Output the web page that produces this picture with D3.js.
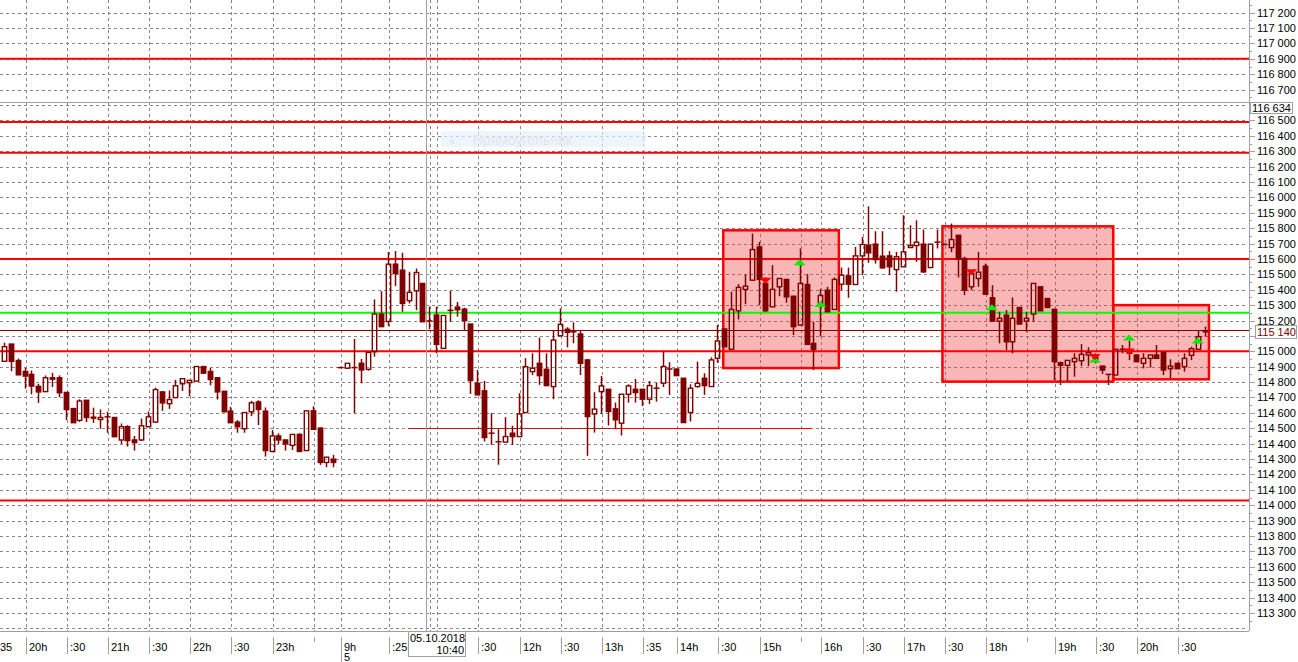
<!DOCTYPE html>
<html><head><meta charset="utf-8">
<script src="https://cdn.jsdelivr.net/npm/d3@7"></script>
<style>html,body{margin:0;padding:0;background:#fff;overflow:hidden}svg{display:block}text{font-family:"Liberation Sans",Arial,sans-serif;font-size:11px}</style>
</head><body><svg id="c" width="1298" height="662"></svg>
<script>
// ---- DATA (5-minute candles) ----
const opens = [114935,115047,114940,114869,114850,114772,114738,114828,114828,114733,114628,114551,114682,114572,114557,114574,114570,114424,114510,114424,114424,114510,114540,114736,114660,114699,114789,114796,114806,114901,114869,114828,114740,114611,114540,114497,114607,114671,114611,114349,114450,114424,114389,114460,114355,114613,114501,114278,114299,
114894,114890,114894,114922,114883,114998,115242,115194,115566,115527,115329,115393,115441,115197,115236,115019,115266,115287,115274,115177,114792,114743,114468,114412,114410,114468,114446,114602,114868,114922,114883,114771,115101,115143,115127,115112,114944,114593,114738,114753,114626,114533,114721,114753,114753,114689,114760,114793,114885,114885,114825,114602,114771,114825,114771,114955,115145,115013,115263,115402,115462,115678,115441,115289,115419,115467,115358,115170,115434,115051,115311,115397,115272,115436,115490,115434,115620,115689,115696,115618,115620,115531,115549,115674,115687,115696,115544,115709,115694,115674,115754,115603,115419,115473,115553,115348,115196,115235,115062,115285,115196,115242,115419,115343,115272,114926,114909,114933,114939,114976,114965,114904,114850,114846,115013,114987,114976,114922,114954,114976,114993,114887,114922,114900,114974,115013,115127];
const highs = [115056,115047,114953,114892,114875,114789,114843,114860,114843,114733,114628,114688,114682,114634,114622,114607,114570,114531,114520,114450,114563,114609,114764,114742,114746,114815,114822,114811,114901,114901,114892,114828,114740,114639,114553,114602,114678,114682,114635,114488,114467,114424,114460,114467,114613,114643,114505,114312,114327,
114900,114922,115080,114950,114993,115337,115391,115646,115651,115640,115517,115538,115441,115290,115290,115233,115393,115320,115283,115177,114879,114807,114598,114494,114572,114516,114727,114955,114987,115089,114987,115138,115279,115156,115188,115138,114950,114734,114840,114753,114667,114721,114786,114820,114753,114807,114797,114998,114929,114885,114825,114786,114933,114857,114961,115171,115145,115387,115436,115499,115765,115711,115480,115560,115473,115467,115358,115668,115501,115192,115406,115419,115480,115544,115544,115678,115743,115942,115780,115780,115650,115646,115884,115819,115851,115791,115696,115791,115700,115830,115754,115614,115527,115646,115570,115430,115257,115268,115350,115285,115257,115441,115419,115343,115278,114933,114941,114987,115047,115026,114987,114904,114850,115013,115041,115069,114976,114987,114976,115041,114993,114948,114922,114987,115030,115138,115160];
const lows = [114935,114871,114847,114757,114720,114665,114738,114768,114703,114553,114536,114542,114540,114535,114497,114471,114445,114398,114381,114355,114417,114510,114536,114613,114626,114699,114742,114708,114806,114854,114779,114686,114607,114536,114471,114471,114579,114521,114316,114349,114398,114355,114359,114349,114355,114493,114262,114247,114247,
114890,114890,114598,114792,114874,114965,115160,115164,115424,115257,115311,115268,115192,115143,114987,115019,115192,115225,115134,114723,114717,114414,114392,114263,114410,114392,114446,114602,114846,114782,114777,114689,115101,115026,115052,114846,114321,114472,114593,114518,114496,114453,114667,114667,114645,114658,114673,114767,114717,114842,114537,114544,114764,114717,114771,114926,115030,115013,115207,115307,115462,115300,115257,115289,115358,115315,115106,115170,115045,114878,115097,115257,115272,115397,115348,115434,115495,115575,115570,115538,115495,115387,115549,115674,115581,115510,115544,115668,115690,115644,115480,115365,115397,115419,115371,115196,115052,115008,114987,115177,115127,115192,115263,115285,114814,114781,114803,114835,114904,114904,114922,114853,114781,114846,114987,114943,114933,114889,114894,114954,114846,114824,114887,114868,114943,115013,115095];
const closes = [115030,114935,114847,114839,114774,114736,114828,114819,114731,114622,114536,114677,114570,114570,114570,114574,114445,114510,114420,114407,114516,114574,114751,114665,114686,114776,114822,114811,114901,114858,114817,114736,114607,114536,114510,114602,114665,114622,114355,114450,114424,114398,114460,114349,114613,114493,114278,114312,114278,
114894,114922,114894,114879,114993,115242,115160,115566,115506,115311,115383,115512,115192,115197,115045,115233,115266,115270,115199,114810,114717,114440,114468,114412,114446,114446,114593,114900,114890,114842,114777,115073,115175,115123,115127,114922,114576,114624,114775,114609,114555,114721,114775,114732,114689,114777,114760,114901,114885,114842,114537,114760,114792,114777,114944,115067,115030,115272,115415,115423,115661,115467,115263,115402,115473,115354,115160,115441,115045,115013,115363,115257,115467,115495,115436,115620,115694,115640,115596,115542,115549,115614,115646,115687,115709,115516,115696,115709,115694,115726,115598,115397,115505,115514,115371,115196,115214,115062,115214,115177,115214,115441,115263,115285,114933,114909,114941,114954,114980,114991,114948,114878,114850,115013,115013,115008,114933,114954,114976,114954,114879,114904,114887,114954,115017,115095,115127];

// x-axis tick labels: candle index and text (first one is cut by the left edge)
const tickIdx  = [-2, 3, 9, 15, 21, 27, 33, 39, 45, 49, 56, 62, 63, 69, 75, 81, 87, 93, 98, 104, 110, 116, 119, 125, 131, 137, 143, 149, 153, 159, 165, 171];
const tickText = ["35","20h",":30","21h",":30","22h",":30","23h","","9h",":25","","",":30","12h",":30","13h",":35","14h",":30","15h","","16h",":30","17h",":30","18h","","19h",":30","20h",":30"];

// horizontal levels
const redLevels = [116900, 116490, 116290, 115600, 115000, 114030];
const greenLevels = [115250];
const lastPrice = 115140;
const crossPrice = 116618, crossPriceText = "116 634";
const crossIdx = 61.47, crossDate = "05.10.2018", crossTime = "10:40";
// trend segments at 114500: [startIdx, endIdx, price]
const segStart = [58.9, 88.6], segEnd = [88.6, 117.8], segPrice = [114500, 114500];
// rectangles
const rectI0 = [104.85, 136.8, 161.7], rectI1 = [121.7, 161.7, 175.65];
const rectTop = [115786, 115812, 115300], rectBot = [114891, 114803, 114818];
// signal arrows
const arrowIdx = [111, 116, 119, 141, 144, 159, 159, 164, 164, 174];
const arrowPrice = [115459, 115579, 115307, 115514, 115287, 114947, 114963, 115090, 114999, 115070];
const arrowDir = ["down","up","up","down","up","up","down","up","down","up"];

// ---- CHART ----
const svg = d3.select("#c");
const plotR = 1249, plotB = 631;
const x = d3.scaleLinear().domain([0, 175]).range([4, 4 + 175 * 6.86]);
const y = d3.scaleLinear().domain([115000, 117200]).range([351.3, 12.7]);
const candleColor = "#800000";
const fmt = v => d3.format(",")(v).replace(/,/g, " ");

const gGrid = svg.append("g");
const hTicks = d3.range(113200, 117300, 100);
gGrid.selectAll("line.h").data(hTicks).join("line")
  .attr("x1", 0).attr("x2", plotR - 4)
  .attr("y1", d => Math.round(y(d)) + 0.5).attr("y2", d => Math.round(y(d)) + 0.5)
  .attr("stroke", "#888").attr("stroke-dasharray", "3,3");
gGrid.selectAll("line.v").data(tickIdx).join("line")
  .attr("x1", d => Math.round(x(d) + 1) + 0.5).attr("x2", d => Math.round(x(d) + 1) + 0.5)
  .attr("y1", 0).attr("y2", plotB)
  .attr("stroke", "#888").attr("stroke-dasharray", "3,3");

// watermark
svg.append("rect").attr("x", 441).attr("y", 131).attr("width", 205).attr("height", 16).attr("rx", 3)
  .attr("fill", "#e8f1fd").attr("opacity", 0.7);
svg.append("circle").attr("cx", 452).attr("cy", 141.5).attr("r", 2.5).attr("fill", "#e6e9ee");
svg.append("text").attr("x", 473).attr("y", 145).text("Прямоугольник")
  .style("font-size", "14px").attr("fill", "#e3e6ea");

// rectangles
svg.append("g").selectAll("rect").data(rectI0).join("rect")
  .attr("x", (d, i) => x(d)).attr("width", (d, i) => x(rectI1[i]) - x(d))
  .attr("y", (d, i) => y(rectTop[i])).attr("height", (d, i) => y(rectBot[i]) - y(rectTop[i]))
  .attr("fill", "rgba(235,40,40,0.34)").attr("stroke", "#ff0000").attr("stroke-width", 2.5);

// levels
const gLv = svg.append("g");
gLv.selectAll("line.r").data(redLevels).join("line")
  .attr("x1", 0).attr("x2", plotR).attr("y1", d => y(d)).attr("y2", d => y(d))
  .attr("stroke", "#ff0000").attr("stroke-width", 2);
gLv.selectAll("line.g").data(greenLevels).join("line")
  .attr("x1", 0).attr("x2", plotR).attr("y1", d => y(d)).attr("y2", d => y(d))
  .attr("stroke", "#00ff00").attr("stroke-width", 2);
gLv.selectAll("line.s").data(segStart).join("line")
  .attr("x1", d => x(d)).attr("x2", (d, i) => x(segEnd[i]))
  .attr("y1", (d, i) => Math.round(y(segPrice[i])) + 0.5).attr("y2", (d, i) => Math.round(y(segPrice[i])) + 0.5)
  .attr("stroke", (d, i) => i === 0 ? "#b01818" : "#ff0000").attr("stroke-width", 1);
// last price line
gLv.append("line").attr("x1", 0).attr("x2", plotR)
  .attr("y1", Math.round(y(lastPrice)) + 0.5).attr("y2", Math.round(y(lastPrice)) + 0.5)
  .attr("stroke", candleColor).attr("stroke-width", 1);
// crosshair
gLv.append("line").attr("x1", 0).attr("x2", plotR)
  .attr("y1", Math.round(y(crossPrice)) + 0.5).attr("y2", Math.round(y(crossPrice)) + 0.5)
  .attr("stroke", "#a0a0a0");
gLv.append("line").attr("x1", Math.round(x(crossIdx)) + 0.5).attr("x2", Math.round(x(crossIdx)) + 0.5)
  .attr("y1", 0).attr("y2", plotB).attr("stroke", "#a0a0a0");

// candles
const idx = d3.range(opens.length);
const gC = svg.append("g");
const bw = 4.4;
idx.forEach(i => {
  const o = opens[i], h = highs[i], l = lows[i], c = closes[i];
  const cx = Math.round(x(i)) + 0.5;
  const top = y(Math.max(o, c)), bot = y(Math.min(o, c));
  const bull = c > o;
  if (bull) {
    gC.append("line").attr("x1", cx).attr("x2", cx).attr("y1", y(h)).attr("y2", top)
      .attr("stroke", candleColor).attr("stroke-width", 1.5);
    gC.append("line").attr("x1", cx).attr("x2", cx).attr("y1", bot).attr("y2", y(l))
      .attr("stroke", candleColor).attr("stroke-width", 1.5);
    gC.append("rect").attr("x", cx - bw / 2).attr("width", bw).attr("y", top).attr("height", Math.max(bot - top, 1))
      .attr("fill", "none").attr("stroke", candleColor).attr("stroke-width", 1.4);
  } else {
    gC.append("line").attr("x1", cx).attr("x2", cx).attr("y1", y(h)).attr("y2", y(l))
      .attr("stroke", candleColor).attr("stroke-width", 1.5);
    if (o === c) {
      gC.append("line").attr("x1", cx - 3).attr("x2", cx + 3).attr("y1", top).attr("y2", top)
        .attr("stroke", candleColor).attr("stroke-width", 1.5);
    } else {
      gC.append("rect").attr("x", cx - bw / 2).attr("width", bw).attr("y", top).attr("height", Math.max(bot - top, 1))
        .attr("fill", candleColor).attr("stroke", candleColor).attr("stroke-width", 1.4);
    }
  }
});

// arrows
svg.append("g").selectAll("path").data(arrowIdx).join("path")
  .attr("d", (d, i) => {
    const cx = x(d), cy = y(arrowPrice[i]);
    return arrowDir[i] === "up"
      ? `M${cx - 6},${cy + 3}L${cx + 6},${cy + 3}L${cx},${cy - 3}Z`
      : `M${cx - 6},${cy - 3}L${cx + 6},${cy - 3}L${cx},${cy + 3}Z`;
  })
  .attr("fill", (d, i) => arrowDir[i] === "up" ? "#00ee00" : "#ff0000");

// right axis
const gA = svg.append("g");
gA.append("line").attr("x1", plotR + 0.5).attr("x2", plotR + 0.5).attr("y1", 0).attr("y2", plotB)
  .attr("stroke", "#a0a0a0");
const axTicks = d3.range(113300, 117300, 100);
gA.selectAll("line.mj").data(axTicks).join("line")
  .attr("x1", plotR).attr("x2", plotR + 6)
  .attr("y1", d => Math.round(y(d)) + 0.5).attr("y2", d => Math.round(y(d)) + 0.5).attr("stroke", "#a0a0a0");
gA.selectAll("line.mn").data(d3.range(113250, 117300, 100)).join("line")
  .attr("x1", plotR).attr("x2", plotR + 3)
  .attr("y1", d => Math.round(y(d)) + 0.5).attr("y2", d => Math.round(y(d)) + 0.5).attr("stroke", "#a0a0a0");
// labels hidden behind the value boxes are skipped
const boxY = [y(crossPrice), y(lastPrice)];
gA.selectAll("text").data(axTicks.filter(d => boxY.every(b => Math.abs(y(d) - b - 5) > 9))).join("text")
  .attr("x", 1257).attr("y", d => y(d) + 4).text(d => fmt(d)).attr("fill", "#000");

// right axis value boxes
svg.append("rect").attr("x", 1250.5).attr("y", Math.round(y(crossPrice)) + 0.5).attr("width", 42).attr("height", 11)
  .attr("fill", "#fff").attr("stroke", "#a0a0a0");
svg.append("text").attr("x", 1252).attr("y", Math.round(y(crossPrice)) + 10).text(crossPriceText);
svg.append("rect").attr("x", 1255.5).attr("y", 325.5).attr("width", 41).attr("height", 13)
  .attr("fill", "#fff").attr("stroke", "#a0a0a0");
svg.append("text").attr("x", 1257).attr("y", 336).text(fmt(lastPrice)).attr("fill", candleColor);

// bottom axis
const gB = svg.append("g");
gB.append("line").attr("x1", 0).attr("x2", plotR).attr("y1", plotB + 0.5).attr("y2", plotB + 0.5).attr("stroke", "#a0a0a0");
gB.selectAll("line.sep").data(tickIdx).join("line")
  .attr("x1", d => Math.round(x(d) + 1) + 0.5).attr("x2", d => Math.round(x(d) + 1) + 0.5)
  .attr("y1", 637).attr("y2", (d, i) => tickText[i] === "" ? 642 : 654)
  .attr("stroke", "#a0a0a0");
gB.selectAll("text").data(tickIdx).join("text")
  .attr("x", d => Math.max(0, Math.round(x(d) + 1) + 3)).attr("y", 651).text((d, i) => tickText[i]);
gB.append("line").attr("x1", Math.round(x(49) + 1) + 0.5).attr("x2", Math.round(x(49) + 1) + 0.5)
  .attr("y1", 654).attr("y2", 662).attr("stroke", "#a0a0a0");
gB.append("text").attr("x", Math.round(x(49) + 1) + 3).attr("y", 661).text("5");

// crosshair date box
const cbx = Math.round(x(crossIdx)) - 18;
svg.append("rect").attr("x", cbx + 0.5).attr("y", 631.5).attr("width", 57).attr("height", 25)
  .attr("fill", "#fff").attr("stroke", "#a0a0a0");
svg.append("text").attr("x", cbx + 2).attr("y", 642).text(crossDate);
svg.append("text").attr("x", cbx + 56).attr("y", 654).attr("text-anchor", "end").text(crossTime);
</script></body></html>
